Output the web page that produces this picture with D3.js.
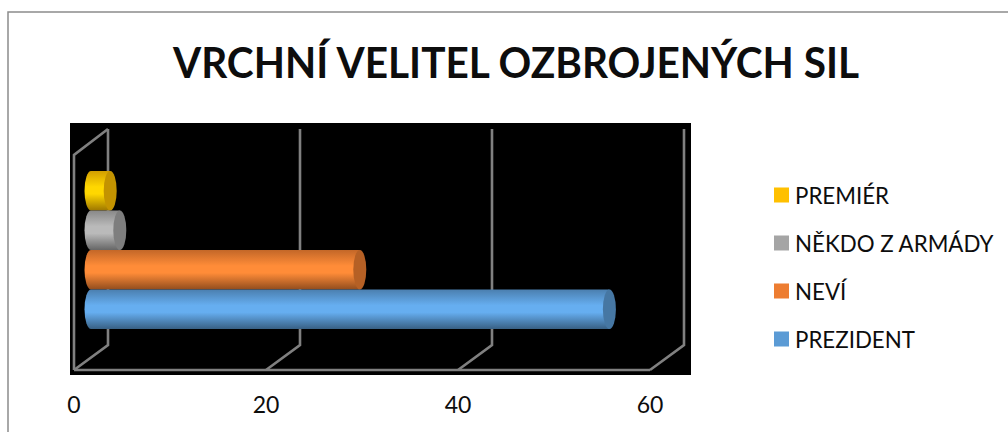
<!DOCTYPE html>
<html>
<head>
<meta charset="utf-8">
<script src="https://cdnjs.cloudflare.com/ajax/libs/d3/7.8.5/d3.min.js"></script>
<style>
  html, body { margin: 0; padding: 0; background: #fff; overflow: hidden; }
  text { font-family: Lato, "Open Sans", sans-serif; fill: #0d0d0d; }
</style>
</head>
<body>
<div id="chart"></div>
<script>
const titleText = "VRCHNÍ VELITEL OZBROJENÝCH SIL";
// bottom to top, same order as the legend reads upwards
const categories = ["PREZIDENT", "NEVÍ", "NĚKDO Z ARMÁDY", "PREMIÉR"];
const values = [54, 28, 3, 2];
const xTicks = [0, 20, 40, 60];
const colors = ["#5b9bd5", "#ed7d31", "#a5a5a5", "#ffc000"];
const brightColors = ["#66aef0", "#ff8c38", "#bababa", "#ffd700"];

const svg = d3.select("#chart").append("svg")
  .attr("width", 1008)
  .attr("height", 432);

// Chart frame
svg.append("rect")
  .attr("x", 8).attr("y", 12)
  .attr("width", 1010).attr("height", 440)
  .attr("fill", "#fff")
  .attr("stroke", "#8c8c8c")
  .attr("stroke-width", 1.5);

svg.append("text")
  .attr("x", 516).attr("y", 78)
  .attr("text-anchor", "middle")
  .attr("textLength", 686)
  .attr("lengthAdjust", "spacingAndGlyphs")
  .style("font-size", "42.5px")
  .style("font-weight", "700")
  .text(titleText);

// Black plot background
svg.append("rect")
  .attr("x", 70).attr("y", 123)
  .attr("width", 621).attr("height", 252)
  .attr("fill", "#000");

const x = d3.scaleLinear().domain([0, 60]).range([74, 650]);
const y = d3.scaleBand()
  .domain(categories)
  .range([329, 171]);

const floorY = 370;
const depthX = 34;
const depthY = 25;
const topY = 129;
const frontTopY = 155;
const wall = "#808080";

const defs = svg.append("defs");
categories.forEach((c, i) => {
  const g = defs.append("linearGradient")
    .attr("id", `bar-${i}`)
    .attr("x1", 0).attr("y1", 0).attr("x2", 0).attr("y2", 1);
  const base = d3.color(colors[i]);
  g.append("stop").attr("offset", "0%").attr("stop-color", base.darker(0.55));
  g.append("stop").attr("offset", "40%").attr("stop-color", brightColors[i]);
  g.append("stop").attr("offset", "58%").attr("stop-color", brightColors[i]);
  g.append("stop").attr("offset", "100%").attr("stop-color", base.darker(1.35));
});

// 3D walls: back gridlines, floor diagonals, front floor line
const grid = svg.append("g")
  .attr("fill", "none")
  .attr("stroke", wall)
  .attr("stroke-width", 2.6);

grid.selectAll("path.wall")
  .data(xTicks)
  .enter()
  .append("path")
  .attr("class", "wall")
  .attr("d", d => `M${x(d)},${floorY}L${x(d) + depthX},${floorY - depthY}V${topY}`);

grid.append("path")
  .attr("d", `M${x(0)},${floorY}H${x(60)}`);

grid.append("path")
  .attr("d", `M${x(0)},${floorY}V${frontTopY}L${x(0) + depthX},${topY}`);

// Cylinders sit halfway through the depth
const barOffset = depthX / 2;
const rx = 6.5;
const order = d3.range(categories.length).reverse();

const bars = svg.selectAll("g.bar")
  .data(order)
  .enter()
  .append("g")
  .attr("class", "bar");

bars.append("path")
  .attr("fill", i => `url(#bar-${i})`)
  .attr("d", i => {
    const ry = y.bandwidth() / 2;
    const top = y(categories[i]);
    const x0 = x(0) + barOffset;
    const x1 = x(values[i]) + barOffset;
    return `M${x0},${top}H${x1}V${top + 2 * ry}H${x0}A${rx},${ry} 0 0 1 ${x0},${top}Z`;
  });

bars.append("ellipse")
  .attr("cx", i => x(values[i]) + barOffset)
  .attr("cy", i => y(categories[i]) + y.bandwidth() / 2)
  .attr("rx", rx)
  .attr("ry", y.bandwidth() / 2)
  .attr("fill", i => d3.color(colors[i]).darker(0.75));

// X axis labels
svg.selectAll("text.tick-label")
  .data(xTicks)
  .enter()
  .append("text")
  .attr("class", "tick-label")
  .attr("x", d => x(d))
  .attr("y", 413)
  .attr("text-anchor", "middle")
  .style("font-size", "23px")
  .text(d => d);

// Legend
const legendY = d3.scalePoint()
  .domain(categories)
  .range([339, 195]);

const legend = svg.selectAll("g.legend")
  .data(categories)
  .enter()
  .append("g")
  .attr("class", "legend")
  .attr("transform", c => `translate(774,${legendY(c)})`);

legend.append("rect")
  .attr("y", -7.5)
  .attr("width", 15)
  .attr("height", 15)
  .attr("fill", (c, i) => colors[i]);

legend.append("text")
  .attr("x", 21)
  .attr("y", 8.5)
  .style("font-size", "22.3px")
  .text(c => c);
</script>
</body>
</html>
